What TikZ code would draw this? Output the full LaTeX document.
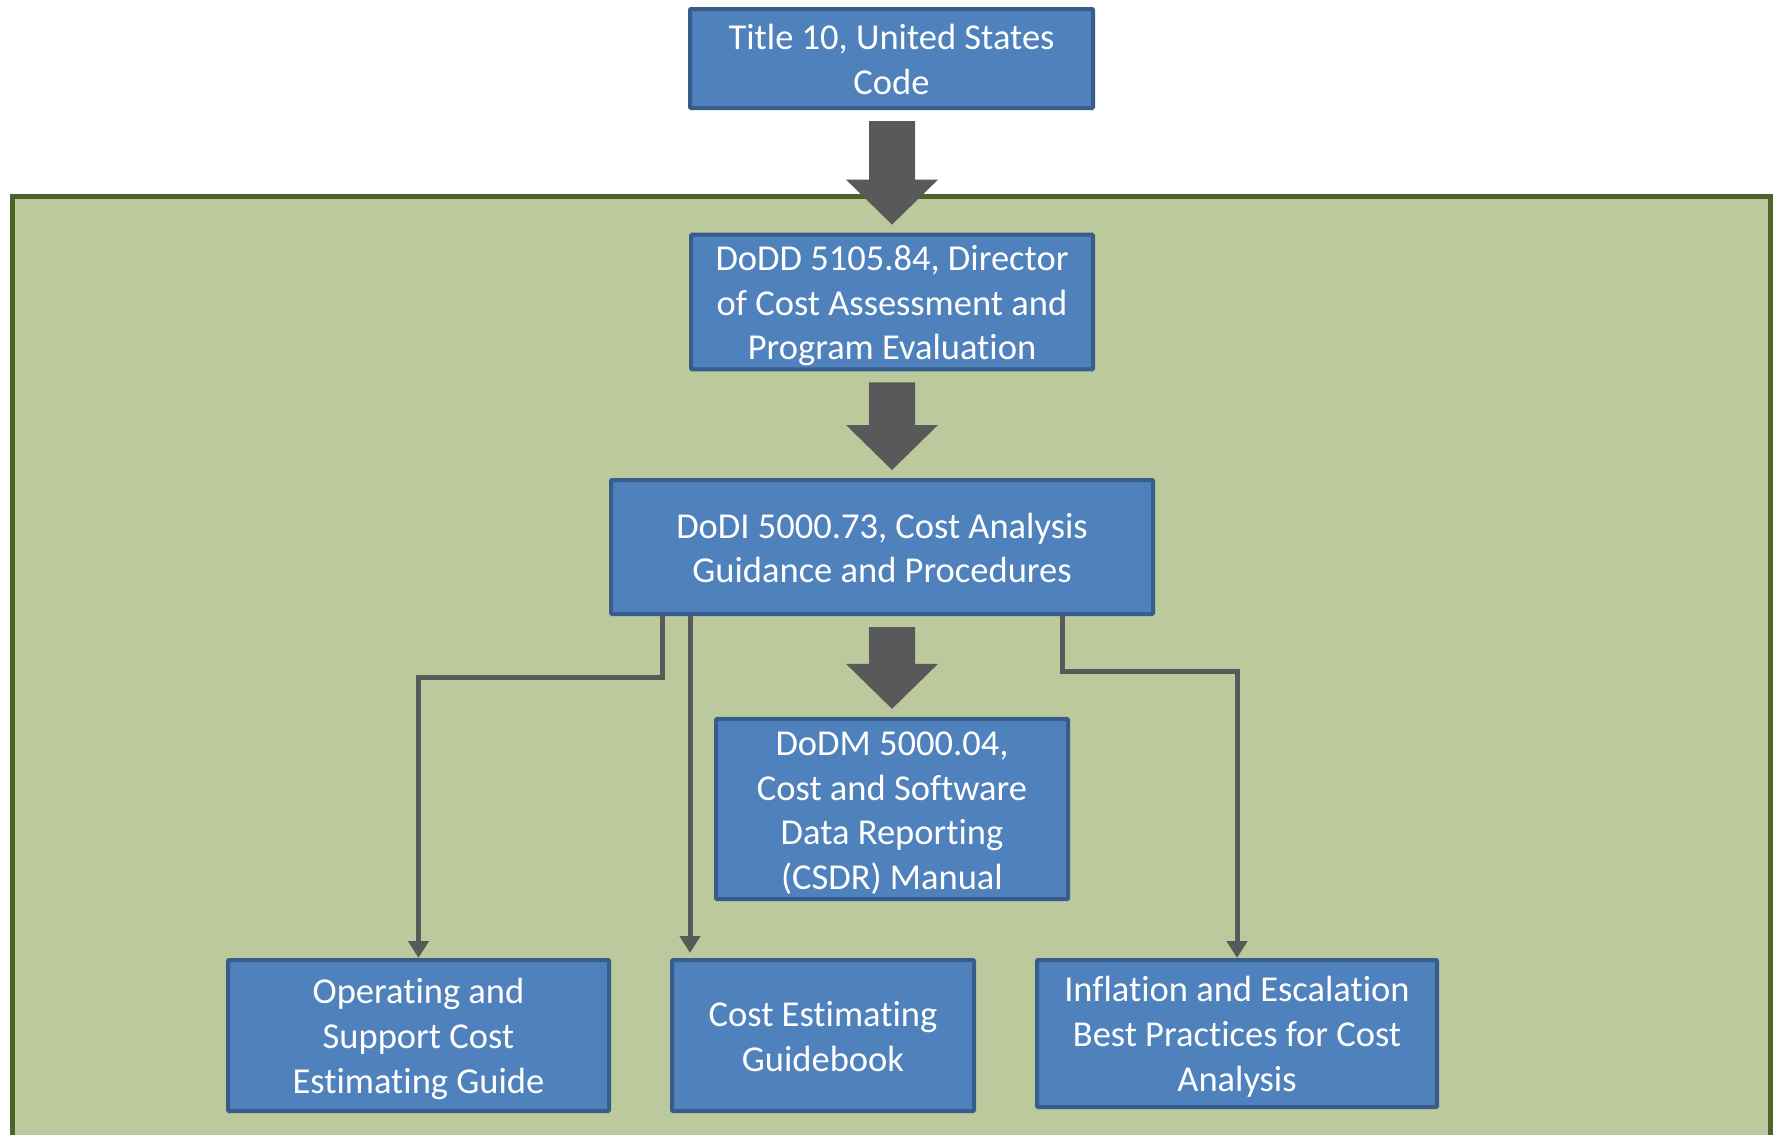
\documentclass[tikz,border=0pt]{standalone}
\usepackage{fontspec}
\setmainfont{Carlito}[Ligatures=NoCommon]
\usetikzlibrary{arrows.meta,calc}
\definecolor{boxfill}{HTML}{4F81BD}
\definecolor{boxline}{HTML}{385D8A}
\definecolor{panelfill}{HTML}{BCC99D}
\definecolor{panelline}{HTML}{4F6228}
\definecolor{arrowgray}{HTML}{595959}

% broad block arrow from the bottom of #1 to the top of #2, on the axis of #3
\newcommand\bigflow[3]{%
  \fill[arrowgray] let \p1=(#1.south), \p2=(#2.north), \p3=(#3.center) in
    (\x3-23pt,\y1-11pt) -- (\x3+23pt,\y1-11pt) -- (\x3+23pt,\y2+53pt)
    -- (\x3+46pt,\y2+53pt) -- (\x3,\y2+8pt) -- (\x3-46pt,\y2+53pt)
    -- (\x3-23pt,\y2+53pt) -- cycle;}

\begin{document}
\begin{tikzpicture}[x=1pt,y=-1pt,
  doc/.style={draw=boxline, line width=4pt, fill=boxfill, text=white,
    inner sep=0pt, align=center, rounded corners=1pt,
    font=\fontsize{36.5}{44.6}\selectfont, text depth=9.8pt},
  % text blocks sized on whole line heights (ascent 34.7pt, pitch 44.6pt)
  two lines/.style={text height=81pt},
  three lines/.style={text height=125pt},
  four lines/.style={text height=170.5pt},
  conn/.style={draw=arrowgray, line width=5pt,
    -{Triangle[width=20pt,length=17pt]}},
  panel/.style={draw=panelline, fill=panelfill, line width=5pt}]

\useasboundingbox (0,0) rectangle (1775,1135);

% green backdrop for the DoD documents
\path[panel] (12.5,196.5) rectangle (1770,1160);

% documents
\node[doc, two lines, minimum width=403pt, minimum height=99pt] (title)
  at (891.5,58.5) {Title 10, United States\\Code};
\node[doc, three lines, minimum width=402pt, minimum height=134pt] (dodd)
  at (892,302)
  {DoDD 5105.84, Director\\of Cost Assessment and\\Program Evaluation};
\node[doc, two lines, minimum width=542pt, minimum height=134pt] (dodi)
  at (882,547) {DoDI 5000.73, Cost Analysis\\Guidance and Procedures};
\node[doc, four lines, minimum width=352pt, minimum height=178pt] (dodm)
  at (892,809)
  {DoDM 5000.04,\\Cost and Software\\Data Reporting\\(CSDR) Manual};
\node[doc, three lines, minimum width=381pt, minimum height=151pt] (op)
  at (418.5,1035.5) {Operating and\\Support Cost\\Estimating Guide};
\node[doc, two lines, minimum width=302pt, minimum height=151pt] (ceg)
  at (823,1035.5) {Cost Estimating\\Guidebook};
\node[doc, three lines, minimum width=400pt, minimum height=147pt] (infl)
  at (1237,1033.5)
  {Inflation and Escalation\\Best Practices for Cost\\Analysis};

% main chain
\bigflow{title}{dodd}{dodd}
\bigflow{dodd}{dodi}{dodd}
\bigflow{dodi}{dodm}{dodm}

% guidance documents
\coordinate (lx) at (662,0);
\coordinate (mx) at (690,0);
\coordinate (rx) at (1062,0);
\draw[conn] (dodi.south -| lx) -- (662,677) -| (op.north);
\draw[conn] (dodi.south -| mx) -- ([yshift=5pt]ceg.north -| mx);
\draw[conn] (dodi.south -| rx) -- (1062,671) -| (infl.north);
\end{tikzpicture}
\end{document}
